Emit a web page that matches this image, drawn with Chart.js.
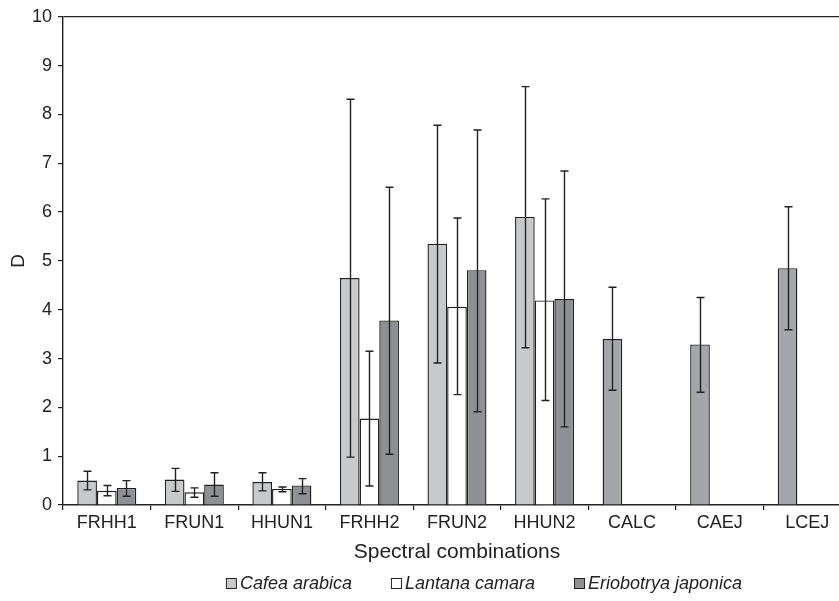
<!DOCTYPE html>
<html>
<head>
<meta charset="utf-8">
<script src="https://cdn.jsdelivr.net/npm/chart.js@4/dist/chart.umd.min.js"></script>
<style>
    html, body { margin: 0; padding: 0; background: #fff; overflow: hidden; }
    #wrap { width: 851px; height: 601px; position: relative; }
</style>
</head>
<body>
<div id="wrap"><canvas id="chart"></canvas></div>
<script>
// values
const categories = ['FRHH1', 'FRUN1', 'HHUN1', 'FRHH2', 'FRUN2', 'HHUN2', 'CALC', 'CAEJ', 'LCEJ'];
const pairCategories = ['CALC', 'CAEJ', 'LCEJ'];
const yTicks = [0, 1, 2, 3, 4, 5, 6, 7, 8, 9, 10];

const cafea = [0.50, 0.52, 0.47, 4.65, 5.35, 5.90, 3.40, 3.29, 4.85];
const cafeaHigh = [0.69, 0.75, 0.66, 8.31, 7.78, 8.57, 4.46, 4.25, 6.11];
const cafeaLow = [0.31, 0.28, 0.29, 0.98, 2.91, 3.22, 2.35, 2.31, 3.59];

const lantana = [0.29, 0.26, 0.33, 1.77, 4.06, 4.19, null, null, null];
const lantanaHigh = [0.40, 0.35, 0.37, 3.15, 5.88, 6.27, null, null, null];
const lantanaLow = [0.19, 0.16, 0.27, 0.39, 2.26, 2.14, null, null, null];

const eriobotrya = [0.35, 0.42, 0.40, 3.78, 4.81, 4.22, null, null, null];
const eriobotryaHigh = [0.50, 0.66, 0.54, 6.51, 7.68, 6.84, null, null, null];
const eriobotryaLow = [0.18, 0.18, 0.23, 1.04, 1.91, 1.60, null, null, null];

const ink = '#222222';
const fontFamily = '"Liberation Sans", Arial, sans-serif';

const errorBars = [
    { high: cafeaHigh, low: cafeaLow },
    { high: lantanaHigh, low: lantanaLow },
    { high: eriobotryaHigh, low: eriobotryaLow }
];

const errorBarPlugin = {
    id: 'errorBars',
    afterDatasetsDraw(chart) {
        const ctx = chart.ctx;
        const y = chart.scales.y;
        ctx.save();
        ctx.strokeStyle = ink;
        ctx.lineWidth = 1.4;
        errorBars.forEach((err, i) => {
            const meta = chart.getDatasetMeta(i);
            meta.data.forEach((bar, j) => {
                if (err.high[j] == null) return;
                const x = Math.round(bar.x) + 0.5;
                const top = y.getPixelForValue(err.high[j]);
                const bottom = y.getPixelForValue(err.low[j]);
                ctx.beginPath();
                ctx.moveTo(x, top);
                ctx.lineTo(x, bottom);
                ctx.moveTo(x - 4, top);
                ctx.lineTo(x + 4, top);
                ctx.moveTo(x - 4, bottom);
                ctx.lineTo(x + 4, bottom);
                ctx.stroke();
            });
        });
        ctx.restore();
    }
};

// legend drawn by hand so it can sit off-centre like the original
const legendPlugin = {
    id: 'sideLegend',
    afterDraw(chart) {
        const ctx = chart.ctx;
        const items = chart.data.datasets.map(ds => ({ text: ds.label, color: ds.legendColor }));
        ctx.save();
        ctx.font = 'italic 18px ' + fontFamily;
        const box = 10, gap = 4, spacing = 39;
        let total = 0;
        items.forEach((it, i) => {
            it.w = ctx.measureText(it.text).width;
            total += box + gap + it.w + (i < items.length - 1 ? spacing : 0);
        });
        let x = 484 - total / 2;
        const cy = 583;
        ctx.textBaseline = 'middle';
        items.forEach(it => {
            ctx.fillStyle = it.color;
            ctx.fillRect(x + 0.5, cy - box / 2 + 0.5, box, box);
            ctx.strokeStyle = ink;
            ctx.lineWidth = 1;
            ctx.strokeRect(x + 0.5, cy - box / 2 + 0.5, box, box);
            ctx.fillStyle = ink;
            ctx.fillText(it.text, x + box + gap, cy + 1);
            x += box + gap + it.w + spacing;
        });
        ctx.restore();
    }
};

const barStyle = { borderColor: ink, borderWidth: 1.4, barPercentage: 1, categoryPercentage: 0.674 };

new Chart(document.getElementById('chart'), {
    type: 'bar',
    data: {
        labels: categories,
        datasets: [
            Object.assign({
                label: 'Cafea arabica', data: cafea, legendColor: '#c8c9cb',
                backgroundColor: ctx => pairCategories.includes(categories[ctx.dataIndex]) ? '#a4a6a9' : '#c8c9cb'
            }, barStyle),
            Object.assign({ label: 'Lantana camara', data: lantana, legendColor: '#ffffff', backgroundColor: '#ffffff' }, barStyle),
            Object.assign({ label: 'Eriobotrya japonica', data: eriobotrya, legendColor: '#8f9094', backgroundColor: '#8f9094' }, barStyle)
        ]
    },
    options: {
        responsive: true,
        maintainAspectRatio: false,
        animation: false,
        layout: { padding: { top: 15, right: 0, bottom: 35, left: 0 } },
        plugins: {
            legend: { display: false },
            tooltip: { enabled: false }
        },
        scales: {
            x: {
                grid: { offset: true, drawOnChartArea: false, tickLength: 5, tickColor: ink, lineWidth: 1.2 },
                border: { color: ink, width: 1.4 },
                ticks: { color: ink, padding: 2, font: { family: fontFamily, size: 18 }, maxRotation: 0 },
                title: {
                    display: true, text: 'Spectral combinations', color: ink,
                    font: { family: fontFamily, size: 21 }, padding: { top: 0, bottom: 1 }
                },
                afterFit: scale => { scale.height = 61; }
            },
            y: {
                min: 0,
                max: 10,
                afterBuildTicks: scale => { scale.ticks = yTicks.map(v => ({ value: v })); },
                grid: {
                    color: ctx => (ctx.tick && ctx.tick.value === 10 ? ink : 'rgba(0,0,0,0)'),
                    tickColor: ink, tickLength: 5, lineWidth: 1.2
                },
                border: { color: ink, width: 1.4 },
                ticks: { color: ink, padding: 6, font: { family: fontFamily, size: 18 } },
                title: {
                    display: true, text: 'D', color: ink,
                    font: { family: fontFamily, size: 19 }, padding: { top: 7, bottom: 0 }
                },
                afterFit: scale => { scale.width = 63; }
            }
        }
    },
    plugins: [errorBarPlugin, legendPlugin]
});
</script>
</body>
</html>
